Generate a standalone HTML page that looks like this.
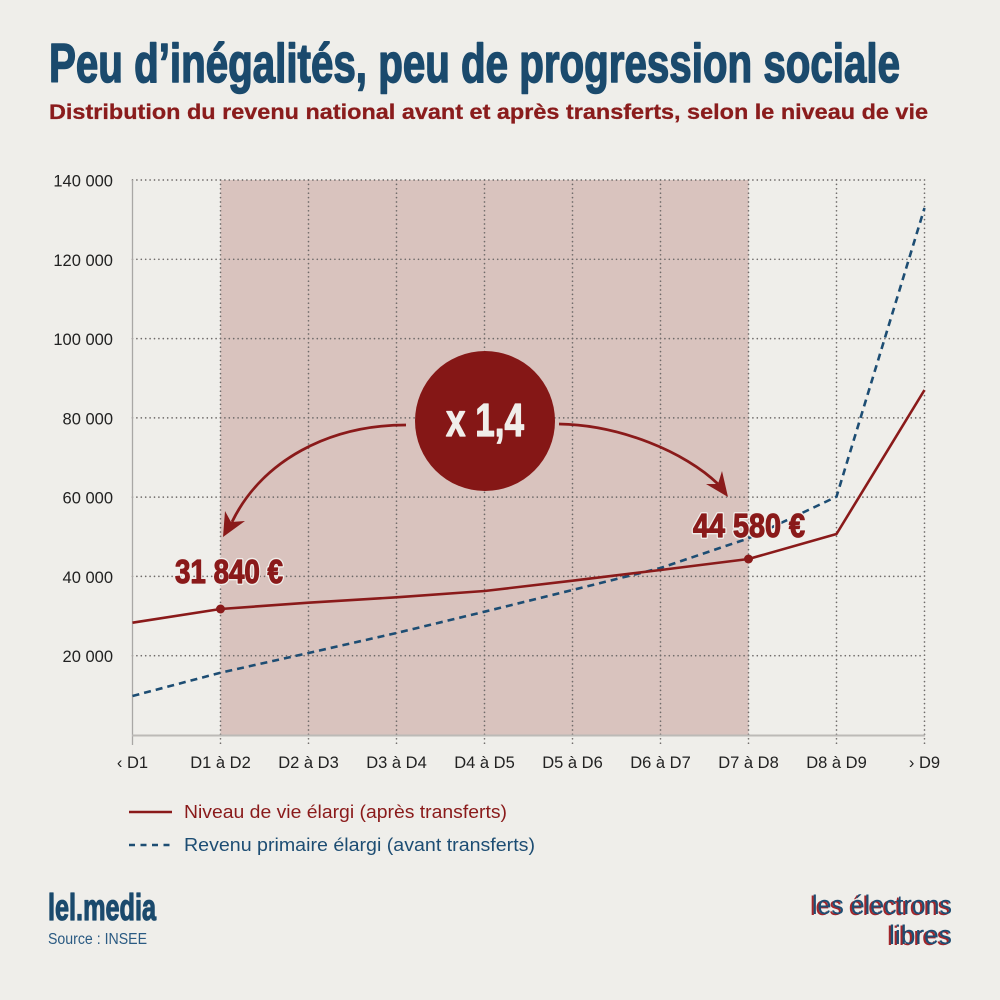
<!DOCTYPE html>
<html><head><meta charset="utf-8"><style>
html,body{margin:0;padding:0;background:#efeeea;}
svg{display:block;}
text{font-family:"Liberation Sans",sans-serif;}
</style></head><body>
<svg width="1000" height="1000" viewBox="0 0 1000 1000" xmlns="http://www.w3.org/2000/svg">
<rect width="1000" height="1000" fill="#efeeea"/>
<!-- Title -->
<text x="49" y="82" font-size="55" font-weight="bold" fill="#1b4a6d" stroke="#1b4a6d" stroke-width="1.6" stroke-linejoin="round" textLength="851" lengthAdjust="spacingAndGlyphs">Peu d’inégalités, peu de progression sociale</text>
<text x="49" y="119" font-size="21" font-weight="bold" fill="#8a1c1c" stroke="#8a1c1c" stroke-width="0.3" textLength="879" lengthAdjust="spacingAndGlyphs">Distribution du revenu national avant et après transferts, selon le niveau de vie</text>

<!-- shaded region -->
<rect x="220.5" y="180" width="528" height="555" fill="#d9c3be"/>

<!-- horizontal grid -->
<g stroke="#6e6a69" stroke-width="1.7" stroke-linecap="round" stroke-dasharray="0 4.4" fill="none">
<line x1="132.5" y1="180" x2="924.5" y2="180"/>
<line x1="132.5" y1="259.3" x2="924.5" y2="259.3"/>
<line x1="132.5" y1="338.6" x2="924.5" y2="338.6"/>
<line x1="132.5" y1="417.9" x2="924.5" y2="417.9"/>
<line x1="132.5" y1="497.1" x2="924.5" y2="497.1"/>
<line x1="132.5" y1="576.4" x2="924.5" y2="576.4"/>
<line x1="132.5" y1="655.7" x2="924.5" y2="655.7"/>
<!-- vertical grid -->
<line x1="220.5" y1="180" x2="220.5" y2="745"/>
<line x1="308.5" y1="180" x2="308.5" y2="745"/>
<line x1="396.5" y1="180" x2="396.5" y2="745"/>
<line x1="484.5" y1="180" x2="484.5" y2="745"/>
<line x1="572.5" y1="180" x2="572.5" y2="745"/>
<line x1="660.5" y1="180" x2="660.5" y2="745"/>
<line x1="748.5" y1="180" x2="748.5" y2="745"/>
<line x1="836.5" y1="180" x2="836.5" y2="745"/>
<line x1="924.5" y1="180" x2="924.5" y2="745"/>
</g>
<!-- axes -->
<line x1="132.5" y1="180" x2="132.5" y2="745" stroke="#a9a7a5" stroke-width="1.3"/>
<line x1="132" y1="735.5" x2="925" y2="735.5" stroke="#bcbab7" stroke-width="2"/>

<!-- y labels -->
<g font-size="16.5" fill="#222" text-anchor="end">
<text x="113" y="186.5">140 000</text>
<text x="113" y="265.8">120 000</text>
<text x="113" y="345.1">100 000</text>
<text x="113" y="424.4">80 000</text>
<text x="113" y="503.6">60 000</text>
<text x="113" y="582.9">40 000</text>
<text x="113" y="662.2">20 000</text>
</g>
<!-- x labels -->
<g font-size="16.5" fill="#222" text-anchor="middle">
<text x="132.5" y="768">‹ D1</text>
<text x="220.5" y="768">D1 à D2</text>
<text x="308.5" y="768">D2 à D3</text>
<text x="396.5" y="768">D3 à D4</text>
<text x="484.5" y="768">D4 à D5</text>
<text x="572.5" y="768">D5 à D6</text>
<text x="660.5" y="768">D6 à D7</text>
<text x="748.5" y="768">D7 à D8</text>
<text x="836.5" y="768">D8 à D9</text>
<text x="924.5" y="768">› D9</text>
</g>

<!-- blue dashed series -->
<polyline points="132.5,696 220.5,672.7 308.5,653 396.5,633 484.5,611.7 572.5,590 660.5,568 748.5,538.3 836.5,496.7 924.5,208" fill="none" stroke="#1d4d73" stroke-width="2.6" stroke-dasharray="7 5"/>
<!-- red series -->
<polyline points="132.5,622.7 220.5,609 308.5,602.7 396.5,597.3 484.5,591 572.5,580.7 660.5,570 748.5,559 836.5,534 924.5,390" fill="none" stroke="#8a1a1a" stroke-width="2.6" stroke-linejoin="round"/>
<circle cx="220.5" cy="609" r="4.5" fill="#8a1a1a"/>
<circle cx="748.5" cy="559" r="4.5" fill="#8a1a1a"/>

<!-- value labels -->
<g font-weight="bold" font-size="33" fill="#f0eeea" stroke="#f0eeea" stroke-width="4" stroke-linejoin="round">
<text x="175" y="583" textLength="108" lengthAdjust="spacingAndGlyphs">31 840 €</text>
<text x="693" y="537" textLength="112" lengthAdjust="spacingAndGlyphs">44 580 €</text>
</g>
<g font-weight="bold" font-size="33" fill="#8a1a1a" stroke="#8a1a1a" stroke-width="1.2" stroke-linejoin="round">
<text x="175" y="583" textLength="108" lengthAdjust="spacingAndGlyphs">31 840 €</text>
<text x="693" y="537" textLength="112" lengthAdjust="spacingAndGlyphs">44 580 €</text>
</g>

<!-- arrows -->
<path d="M406,425 C330,425 262,460 232,522" fill="none" stroke="#8a1a1a" stroke-width="2.8"/>
<polygon points="223,537 225,511 231,522 245,521" fill="#8a1a1a"/>
<path d="M559,424 C620,425 685,452 718,484" fill="none" stroke="#8a1a1a" stroke-width="2.8"/>
<polygon points="728,497 722,471 718,484 706,484" fill="#8a1a1a"/>

<!-- circle -->
<circle cx="485" cy="421" r="70" fill="#851716"/>
<text x="446" y="436" font-size="46" font-weight="bold" fill="#f0eeea" stroke="#f0eeea" stroke-width="1.2" stroke-linejoin="round" textLength="78" lengthAdjust="spacingAndGlyphs">x 1,4</text>

<!-- legend -->
<line x1="129" y1="812" x2="172" y2="812" stroke="#8a1a1a" stroke-width="2.5"/>
<text x="184" y="818" font-size="18" fill="#8a1a1a" textLength="323" lengthAdjust="spacingAndGlyphs">Niveau de vie élargi (après transferts)</text>
<line x1="129" y1="845" x2="172" y2="845" stroke="#1d4d73" stroke-width="2.5" stroke-dasharray="6 5.5"/>
<text x="184" y="851" font-size="18" fill="#1d4d73" textLength="351" lengthAdjust="spacingAndGlyphs">Revenu primaire élargi (avant transferts)</text>

<!-- footer left -->
<text x="48" y="920" font-size="37" font-weight="bold" fill="#1b4a6d" stroke="#1b4a6d" stroke-width="1.2" stroke-linejoin="round" textLength="108" lengthAdjust="spacingAndGlyphs">lel.media</text>
<text x="48" y="944" font-size="15.5" fill="#2a5a82" textLength="99" lengthAdjust="spacingAndGlyphs">Source : INSEE</text>

<!-- footer right logo -->
<g font-size="27">
<text x="810" y="915" fill="#a3262a" textLength="140" lengthAdjust="spacingAndGlyphs">les électrons</text>
<text x="812" y="914" fill="#1d4d73" textLength="140" lengthAdjust="spacingAndGlyphs">les électrons</text>
<text x="887" y="945" fill="#a3262a" textLength="63" lengthAdjust="spacingAndGlyphs">libres</text>
<text x="889" y="944" fill="#1d4d73" textLength="63" lengthAdjust="spacingAndGlyphs">libres</text>
</g>
</svg>
</body></html>
